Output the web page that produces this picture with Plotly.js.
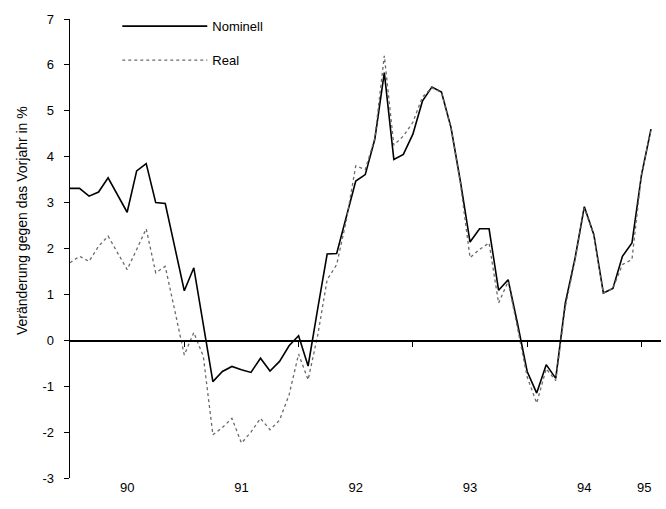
<!DOCTYPE html>
<html>
<head>
<meta charset="utf-8">
<script src="https://cdn.plot.ly/plotly-3.0.1.min.js"></script>
<style>
html,body{margin:0;padding:0;background:#fff;}
#chart{width:666px;height:509px;}
</style>
</head>
<body>
<div id="chart"></div>
<script>
// Monthly observations, Jan 1990 (index 0) to Feb 1995 (index 61)
const months = Array.from({length: 62}, (_, i) => i);

const nominell = [
  3.31, 3.31, 3.14, 3.23, 3.54, 3.17, 2.79, 3.69, 3.85, 3.00, 2.98, 2.03,
  1.08, 1.58, 0.35, -0.90, -0.68, -0.57, -0.64, -0.70, -0.39, -0.67, -0.46, -0.12,
  0.10, -0.56, 0.68, 1.88, 1.89, 2.65, 3.47, 3.61, 4.38, 5.83, 3.94, 4.05,
  4.49, 5.21, 5.52, 5.41, 4.64, 3.45, 2.14, 2.43, 2.43, 1.09, 1.32, 0.35,
  -0.68, -1.15, -0.53, -0.83, 0.81, 1.76, 2.91, 2.30, 1.03, 1.13, 1.83, 2.12,
  3.60, 4.60
];

const real = [
  1.69, 1.83, 1.72, 2.05, 2.27, 1.90, 1.54, 1.98, 2.43, 1.47, 1.61, 0.65,
  -0.32, 0.17, -0.35, -2.06, -1.90, -1.70, -2.24, -2.00, -1.70, -1.95, -1.74, -1.19,
  -0.30, -0.86, 0.10, 1.32, 1.65, 2.60, 3.80, 3.72, 4.40, 6.20, 4.25, 4.45,
  4.75, 5.30, 5.50, 5.40, 4.62, 3.40, 1.80, 1.98, 2.12, 0.81, 1.28, 0.25,
  -0.80, -1.37, -0.62, -0.88, 0.72, 1.72, 2.88, 2.30, 1.03, 1.13, 1.65, 1.76,
  3.60, 4.60
];

const yearLabels = ['90', '91', '92', '93', '94', '95'];
const yearLabelPos = [6, 18, 30, 42, 54, 60.3];
const yearBoundaries = [12, 24, 36, 48, 60];
const yTickVals = [-3, -2, -1, 0, 1, 2, 3, 4, 5, 6, 7];
const yTickText = ['-3', '-2', '-1', '0', '1', '2', '3', '4', '5', '6', '7'];

const FONT = 'Arial, "Liberation Sans", sans-serif';
const xRange = [0, 62.05];

const traces = [
  {
    x: months, y: nominell, name: 'Nominell', type: 'scatter', mode: 'lines',
    line: {color: '#000000', width: 1.6}, xaxis: 'x', yaxis: 'y',
    legendgroup: 'a'
  },
  {
    x: months, y: real, name: 'Real', type: 'scatter', mode: 'lines',
    line: {color: '#6a6a6a', width: 1.3, dash: 'dot'}, xaxis: 'x2', yaxis: 'y',
    legendgroup: 'b'
  }
];

const layout = {
  width: 666, height: 509,
  margin: {l: 70, r: 5, t: 19, b: 31},
  paper_bgcolor: '#ffffff', plot_bgcolor: '#ffffff',
  font: {family: FONT, size: 12, color: '#000'},
  showlegend: true,
  legend: {
    x: 0.080, y: 1.017, xanchor: 'left', yanchor: 'top',
    bgcolor: 'rgba(0,0,0,0)', font: {family: FONT, size: 13, color: '#000'},
    itemwidth: 85, tracegroupgap: 14
  },
  xaxis: {
    range: xRange, showgrid: false, zeroline: false, showline: false,
    ticks: '', tickvals: yearLabelPos, ticktext: yearLabels,
    tickfont: {family: FONT, size: 13, color: '#000'}, fixedrange: true
  },
  xaxis2: {
    range: xRange, overlaying: 'x', anchor: 'free', position: 0.3,
    showgrid: false, zeroline: false, showline: true, linecolor: '#000', linewidth: 1.2,
    ticks: 'outside', ticklen: 5, tickcolor: '#000', tickwidth: 1.2,
    tickvals: yearBoundaries, showticklabels: false, fixedrange: true
  },
  yaxis: {
    range: [-3, 7], tickvals: yTickVals, ticktext: yTickText,
    showgrid: false, zeroline: false, showline: true, linecolor: '#000', linewidth: 1.3,
    ticks: 'outside', ticklen: 5, tickcolor: '#000', ticklabelstandoff: 7,
    tickfont: {family: FONT, size: 13, color: '#000'}, fixedrange: true
  },
  annotations: [
    {
      text: 'Veränderung gegen das Vorjahr in %', textangle: -90,
      xref: 'paper', yref: 'paper', x: -0.081, y: 0.56,
      xanchor: 'center', yanchor: 'middle', showarrow: false,
      font: {family: FONT, size: 14, color: '#000'}
    }
  ]
};

Plotly.newPlot('chart', traces, layout, {displayModeBar: false, staticPlot: true});
</script>
</body>
</html>
